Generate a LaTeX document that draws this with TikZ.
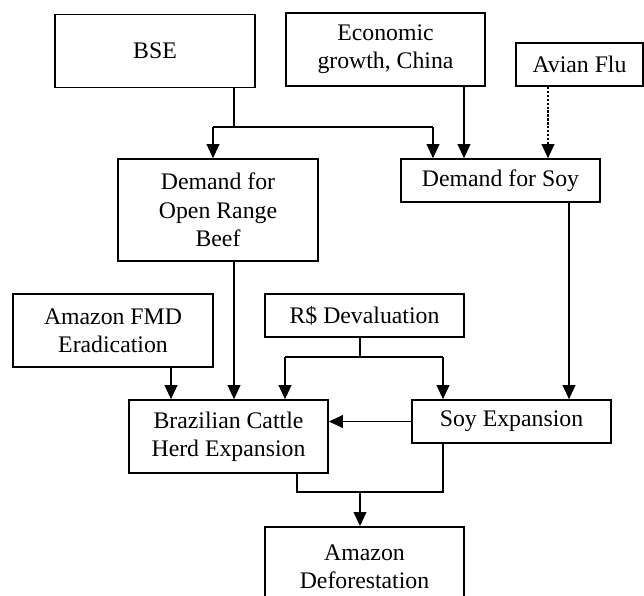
\documentclass[tikz,border=0pt]{standalone}
\usepackage{fontspec}
\setmainfont{Liberation Serif}
\usetikzlibrary{arrows.meta, positioning, calc}

\begin{document}
\begin{tikzpicture}[x=0.025cm, y=-0.025cm,
    box/.style={draw, line width=1.2pt, align=center, inner sep=0pt,
        font=\fontsize{16.9}{20.1}\selectfont},
    link/.style={line width=0.9pt},
    arrowlink/.style={link, -{Triangle[length=0.35cm, width=0.32cm]}},
    dotlink/.style={arrowlink, dash pattern=on 1.6pt off 1.2pt}]

% Frame
\clip (0,0) rectangle (644,595);

% Boxes
\node[box, minimum width=5cm, minimum height=1.825cm] (bse) at (155,51) {BSE};
\node[box, minimum width=4.975cm, minimum height=1.825cm] (econ) at (385.5,49.5) {Economic\\growth, China};
\node[box, minimum width=3.175cm, minimum height=1.075cm] (avian) at (579.5,64.5) {Avian Flu};
\node[box, minimum width=5cm, minimum height=2.55cm] (beef) at (218,210) {Demand for\\Open Range\\Beef};
\node[box, minimum width=4.975cm, minimum height=1.075cm] (soydem) at (500.5,180.5) {Demand for Soy};
\node[box, minimum width=5cm, minimum height=1.825cm] (fmd) at (113,330.5) {Amazon FMD\\Eradication};
\node[box, minimum width=4.975cm, minimum height=1.075cm] (real) at (364.5,315.5) {R\$ Devaluation};
\node[box, minimum width=4.975cm, minimum height=1.825cm] (cattle) at (228.5,436.5) {Brazilian Cattle\\Herd Expansion};
\node[box, minimum width=4.975cm, minimum height=1.075cm] (soyexp) at (511.5,421.5) {Soy Expansion};
\node[box, minimum width=4.975cm, minimum height=2cm, anchor=north] (defor) at (364.5,526) {Amazon\\Deforestation};

% Junction points
\coordinate (bsej) at (234,127);
\coordinate (bsel) at (213,127);
\coordinate (bser) at (433,127);
\coordinate (econx) at (464,127);
\coordinate (avianx) at (548,127);
\coordinate (soyx) at (569,300);
\coordinate (fmdx) at (171,380);
\coordinate (realj) at (360,357);
\coordinate (reall) at (285,357);
\coordinate (realr) at (443,357);
\coordinate (cattlex) at (297,492);
\coordinate (soyexpx) at (443,492);
\coordinate (deforj) at (360,492);

% BSE to both demands
\draw[link] (bse.south -| bsej) -- (bsej);
\draw[link] (bsel) -- (bser);
\draw[arrowlink] (bsel) -- (bsel |- beef.north);
\draw[arrowlink] (bser) -- (bser |- soydem.north);

% Other drivers of soy demand
\draw[arrowlink] (econ.south -| econx) -- (soydem.north -| econx);
\draw[dotlink] (avian.south -| avianx) -- (soydem.north -| avianx);
\draw[arrowlink] (soydem.south -| soyx) -- (soyexp.north -| soyx);

% Cattle herd drivers
\draw[arrowlink] (beef.south -| bsej) -- (cattle.north -| bsej);
\draw[arrowlink] (fmd.south -| fmdx) -- (cattle.north -| fmdx);
\draw[link] (real.south -| realj) -- (realj);
\draw[link] (reall) -- (realr);
\draw[arrowlink] (reall) -- (reall |- cattle.north);
\draw[arrowlink] (realr) -- (realr |- soyexp.north);
\draw[arrowlink] (soyexp.west) -- (cattle.east |- soyexp.west);

% Deforestation
\draw[link] (cattle.south -| cattlex) -- (cattlex) -- (soyexpx) -- (soyexp.south -| soyexpx);
\draw[arrowlink] (deforj) -- (defor.north -| deforj);

\end{tikzpicture}
\end{document}
